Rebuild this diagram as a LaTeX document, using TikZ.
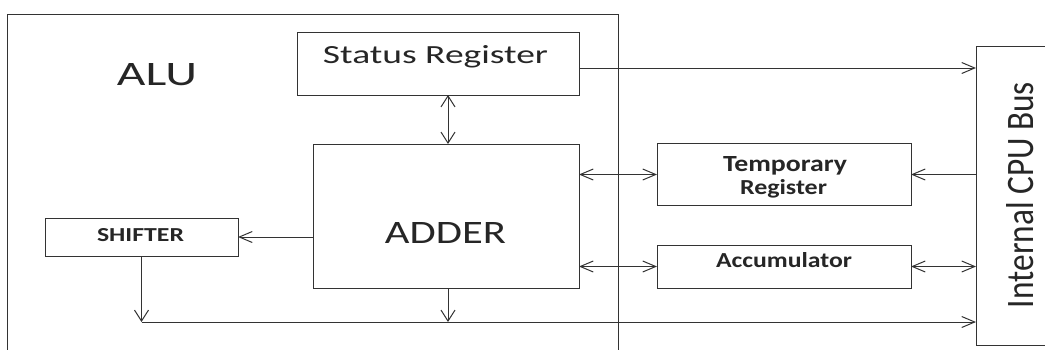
\documentclass[tikz,border=0pt]{standalone}
\usepackage{fontspec}
\setmainfont{Carlito}
\usepackage{graphicx}
\usetikzlibrary{arrows.meta}
\tikzset{
  box/.style={draw=black!80, line width=1pt, rectangle, inner sep=0pt, outer sep=0pt},
  wire/.style={draw=black!80, line width=1pt},
  harr/.style={wire, -{Straight Barb[length=13pt,width=11pt,line width=1pt]}},
  hboth/.style={wire, {Straight Barb[length=13pt,width=11pt,line width=1pt]}-{Straight Barb[length=13pt,width=11pt,line width=1pt]}},
  varr/.style={wire, -{Straight Barb[length=11pt,width=14pt,line width=1pt]}},
  vboth/.style={wire, {Straight Barb[length=11pt,width=14pt,line width=1pt]}-{Straight Barb[length=11pt,width=14pt,line width=1pt]}},
  txt/.style={anchor=base, inner sep=0pt, outer sep=0pt, text=black!85}
}
\begin{document}
\begin{tikzpicture}[x=1pt, y=-1pt]
\clip (0,0) rectangle (1045,349);
\fill[white] (0,0) rectangle (1045,349);
% frames
\node[box, minimum width=611pt, minimum height=360pt, anchor=north west] (alu) at (7,14) {};
\node[box, minimum width=100pt, minimum height=299pt, anchor=north west] (bus) at (976,46) {};
% blocks
\node[box, minimum width=282pt, minimum height=63pt] (sr) at (438,63.5) {};
\node[box, minimum width=266pt, minimum height=144pt] (adder) at (446,216) {};
\node[box, minimum width=193pt, minimum height=38pt] (shifter) at (141.5,237) {};
\node[box, minimum width=254pt, minimum height=62pt] (temp) at (784,174.5) {};
\node[box, minimum width=254pt, minimum height=43pt] (acc) at (784,266.5) {};
% texts
\node[txt] (talu) at (157,85) {\resizebox{80pt}{22pt}{ALU}};
\node[txt] (tsr) at (435.5,63) {\resizebox{225pt}{18pt}{Status Register}};
\node[txt] (tadder) at (445.5,243) {\resizebox{121pt}{21pt}{ADDER}};
\node[txt] (tshift) at (140.5,241) {\resizebox{87pt}{13pt}{\bfseries SHIFTER}};
\node[txt] (ttemp1) at (785,171) {\resizebox{124pt}{15pt}{\bfseries Temporary}};
\node[txt] (ttemp2) at (783.5,194) {\resizebox{87pt}{15pt}{\bfseries Register}};
\node[txt] (tacc) at (784,267) {\resizebox{136pt}{15pt}{\bfseries Accumulator}};
\node[txt, rotate=90] (tbus) at (1033,195) {\resizebox{226pt}{27pt}{Internal CPU Bus}};
% helper coordinates
\coordinate (vx) at (448,0);
\coordinate (srout) at (0,68);
\coordinate (bl) at (0,322);
% connectors
\draw[vboth] (sr.south -| vx) -- (adder.north -| vx);
\draw[harr] (adder.west |- shifter.east) -- (shifter.east);
\draw[varr] (shifter.south) -- (shifter.south |- bl);
\draw[varr] (adder.south -| vx) -- (vx |- bl);
\draw[harr] (shifter.south |- bl) -- (bus.west |- bl);
\draw[harr] (sr.east |- srout) -- (bus.west |- srout);
\draw[hboth] (adder.east |- temp.west) -- (temp.west);
\draw[harr] (bus.west |- temp.east) -- (temp.east);
\draw[hboth] (adder.east |- acc.west) -- (acc.west);
\draw[hboth] (acc.east) -- (bus.west |- acc.east);
\end{tikzpicture}
\end{document}
